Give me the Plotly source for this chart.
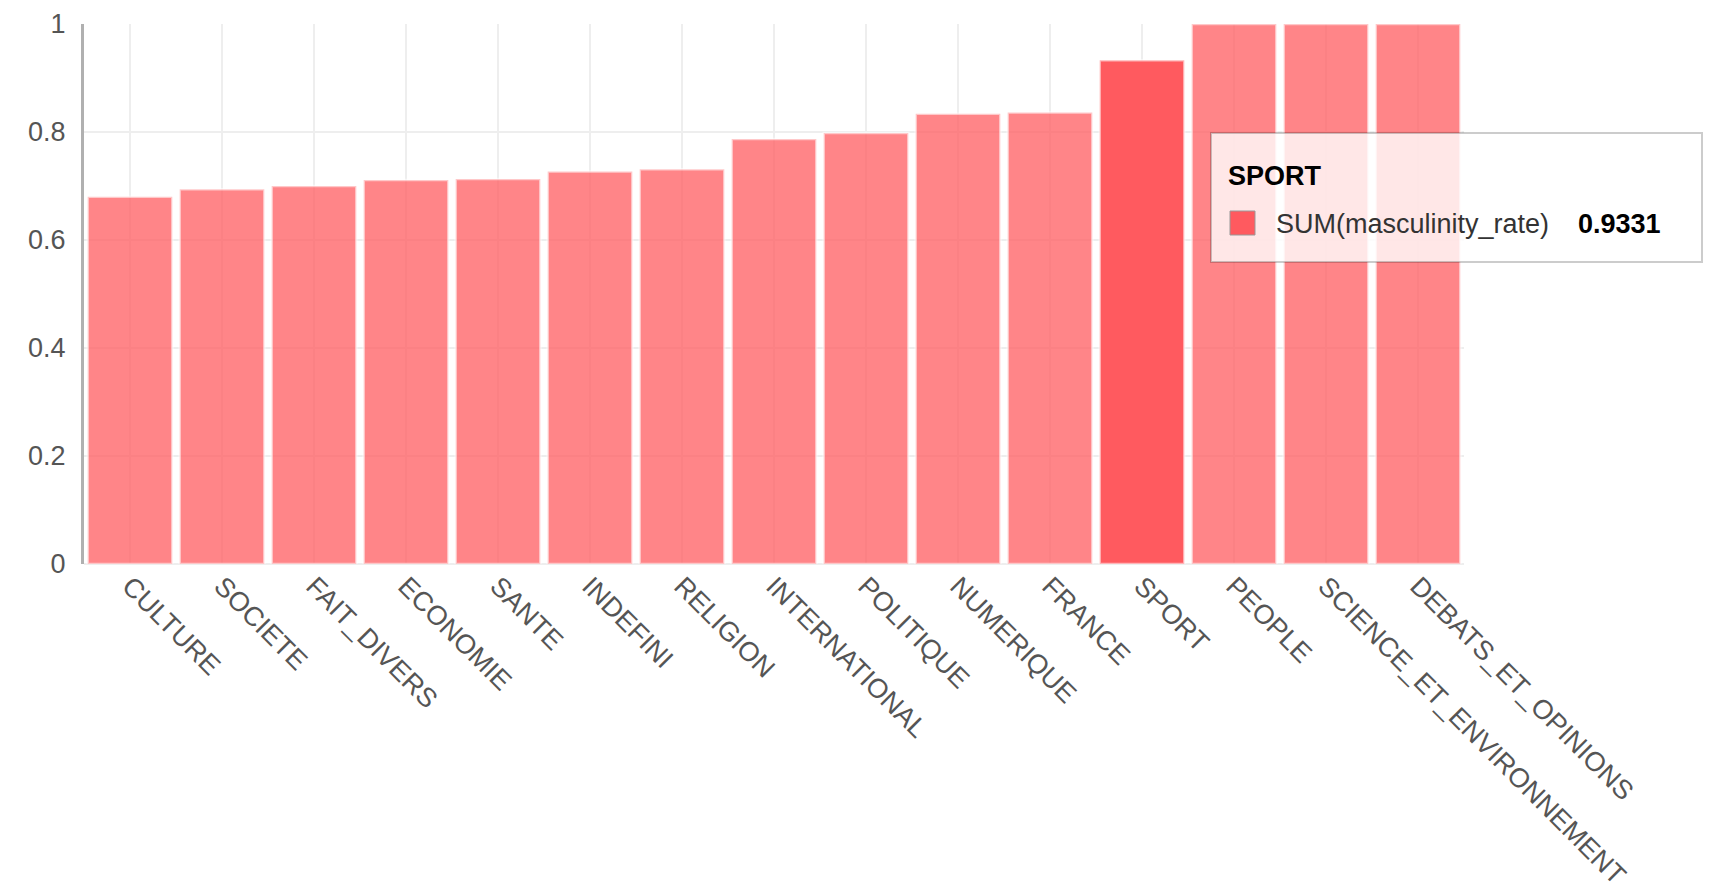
import plotly.graph_objects as go

categories = ["CULTURE", "SOCIETE", "FAIT_DIVERS", "ECONOMIE", "SANTE", "INDEFINI",
              "RELIGION", "INTERNATIONAL", "POLITIQUE", "NUMERIQUE", "FRANCE", "SPORT",
              "PEOPLE", "SCIENCE_ET_ENVIRONNEMENT", "DEBATS_ET_OPINIONS"]
masculinity_rate = [0.680, 0.694, 0.700, 0.711, 0.713, 0.727, 0.731, 0.787, 0.798,
                    0.834, 0.836, 0.9331, 1.0, 1.0, 1.0]
y_ticks = [0, 0.2, 0.4, 0.6, 0.8, 1]
y_tick_labels = ["0", "0.2", "0.4", "0.6", "0.8", "1"]
highlight = "SPORT"

W, H = 1714, 891
L, R, T, B = 84, 250, 24, 327
pw, ph = W - L - R, H - T - B

def px(x):
    return (x - L) / pw

def py(y):
    return (H - B - y) / ph

fill = ["rgba(255,90,95,1)" if c == highlight else "rgba(255,90,95,0.74)" for c in categories]

fig = go.Figure(go.Bar(
    x=categories, y=masculinity_rate,
    marker=dict(color=fill, line=dict(color="rgba(255,255,255,0.55)", width=2.5)),
    hoverinfo="skip",
))

font_family = "Liberation Sans, Arial, sans-serif"
FS = 27
fig.update_layout(
    width=W, height=H,
    margin=dict(l=L, r=R, t=T, b=B, autoexpand=False),
    paper_bgcolor="white", plot_bgcolor="white",
    showlegend=False, bargap=0.08,
    font=dict(family=font_family, size=FS, color="#555"),
    xaxis=dict(tickangle=45, showgrid=True, gridcolor="#eeeeee", gridwidth=2,
               showline=False, ticks="", range=[-0.5, len(categories) - 0.5],
               automargin=False, tickfont=dict(size=FS, color="#555")),
    yaxis=dict(range=[0, 1], tickvals=y_ticks, ticktext=y_tick_labels,
               showgrid=True, gridcolor="#eeeeee", gridwidth=2,
               showline=True, linecolor="#b0b0b0", linewidth=3,
               zeroline=True, zerolinecolor="#eeeeee", zerolinewidth=2,
               automargin=False,
               ticks="", ticklabelstandoff=10, tickfont=dict(size=FS, color="#555")),
)

# tooltip box
x0, x1, y0, y1 = px(1211), px(1702), py(133), py(262)
fig.add_shape(type="rect", xref="paper", yref="paper", x0=x0, x1=x1, y0=y1, y1=y0,
              fillcolor="rgba(255,255,255,0.8)", line=dict(color="rgba(0,0,0,0.2)", width=2),
              layer="above")
fig.add_shape(type="rect", xref="paper", yref="paper", x0=px(1230), x1=px(1255),
              y0=py(235), y1=py(211), fillcolor="rgba(255,90,95,1)",
              line=dict(color="#999", width=1), layer="above")
fig.add_annotation(xref="paper", yref="paper", x=px(1226), y=py(176), xanchor="left",
                   yanchor="middle", text="<b>SPORT</b>", showarrow=False,
                   font=dict(size=FS, color="#000", family=font_family))
fig.add_annotation(xref="paper", yref="paper", x=px(1274), y=py(224), xanchor="left",
                   yanchor="middle", text="SUM(masculinity_rate)", showarrow=False,
                   font=dict(size=FS, color="#333", family=font_family))
fig.add_annotation(xref="paper", yref="paper", x=px(1576), y=py(224), xanchor="left",
                   yanchor="middle", text="<b>%.4f</b>" % masculinity_rate[categories.index(highlight)],
                   showarrow=False, font=dict(size=FS, color="#000", family=font_family))

fig.write_html("out.html")
